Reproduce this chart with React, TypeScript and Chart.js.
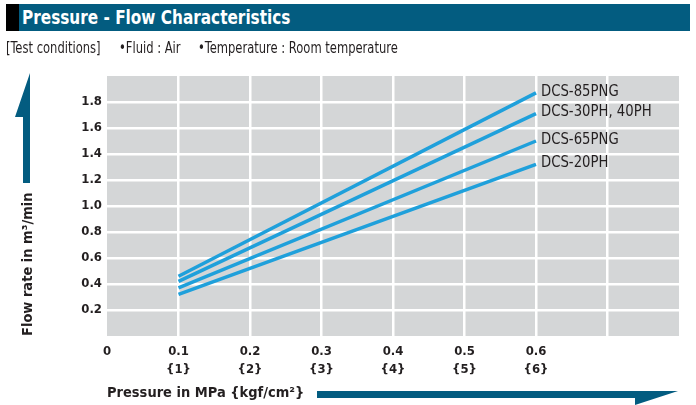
import React, { useEffect, useRef } from 'react';
import { Chart, registerables } from 'chart.js';

Chart.register(...registerables);

// ---- data ----
const seriesNames = ['DCS-85PNG', 'DCS-30PH, 40PH', 'DCS-65PNG', 'DCS-20PH'];
const pressureMPa = [0.1, 0.6];
const flow85PNG = [0.46, 1.87];
const flow30PH40PH = [0.42, 1.71];
const flow65PNG = [0.37, 1.5];
const flow20PH = [0.32, 1.32];
const xTickLabels = ['0', '0.1', '0.2', '0.3', '0.4', '0.5', '0.6', '', ''];
const kgfTickLabels = ['', '{1}', '{2}', '{3}', '{4}', '{5}', '{6}', '', ''];
const yTickLabels = ['', '0.2', '0.4', '0.6', '0.8', '1.0', '1.2', '1.4', '1.6', '1.8', ''];

const NARROW = "'Liberation Sans Narrow', 'Arial Narrow', 'DejaVu Sans Condensed', sans-serif";
const TEAL = '#035c80';
const INK = '#231f20';
const LINE = '#1fa0db';
const PLOT_BG = '#d4d6d7';

const seriesValues = [flow85PNG, flow30PH40PH, flow65PNG, flow20PH];

const bgPlugin = {
  id: 'plotBg',
  beforeDraw(chart: any) {
    const { ctx, chartArea } = chart;
    ctx.save();
    ctx.fillStyle = PLOT_BG;
    ctx.fillRect(chartArea.left, chartArea.top, chartArea.right - chartArea.left, chartArea.bottom - chartArea.top);
    ctx.restore();
  },
};

const labelPlugin = {
  id: 'seriesLabels',
  afterDatasetsDraw(chart: any) {
    const { ctx } = chart;
    chart.data.datasets.forEach((ds: any, i: number) => {
      const meta = chart.getDatasetMeta(i);
      const pt = meta.data[meta.data.length - 1];
      ctx.save();
      ctx.translate(pt.x + 5, pt.y - 1.5);
      ctx.scale(0.92, 1);
      ctx.font = `16px ${NARROW}`;
      ctx.fillStyle = INK;
      ctx.textAlign = 'left';
      ctx.textBaseline = 'middle';
      ctx.fillText(ds.label, 0, 0);
      ctx.restore();
    });
  },
};

const arrowPlugin = {
  id: 'arrows',
  afterDraw(chart: any) {
    const { ctx } = chart;
    ctx.save();
    ctx.fillStyle = TEAL;
    ctx.beginPath();
    ctx.moveTo(30, 73);
    ctx.lineTo(30, 183);
    ctx.lineTo(23, 183);
    ctx.lineTo(23, 117);
    ctx.lineTo(15, 117);
    ctx.closePath();
    ctx.fill();
    ctx.beginPath();
    ctx.moveTo(317, 391);
    ctx.lineTo(678, 391);
    ctx.lineTo(635, 405);
    ctx.lineTo(635, 398);
    ctx.lineTo(317, 398);
    ctx.closePath();
    ctx.fill();
    ctx.restore();
  },
};

const textStyle = (left: number, top: number, size: number, sx: number, extra: any = {}) => ({
  position: 'absolute' as const,
  left,
  top,
  fontFamily: NARROW,
  fontSize: size,
  whiteSpace: 'nowrap' as const,
  transform: `scaleX(${sx})`,
  transformOrigin: 'left center',
  ...extra,
});

export default function App() {
  const canvasRef = useRef<HTMLCanvasElement | null>(null);

  useEffect(() => {
    document.body.style.margin = '0';
    const canvas = canvasRef.current;
    if (!canvas) return;
    const chart = new Chart(canvas, {
      type: 'line',
      data: {
        datasets: seriesNames.map((name, i) => ({
          label: name,
          data: pressureMPa.map((x, j) => ({ x, y: seriesValues[i][j] })),
          borderColor: LINE,
          backgroundColor: LINE,
          borderWidth: 3.5,
          pointRadius: 0,
          fill: false,
          tension: 0,
        })),
      },
      options: {
        responsive: false,
        animation: false,
        devicePixelRatio: 1,
        layout: { padding: { left: 0, top: 76, right: 17, bottom: 0 } },
        plugins: { legend: { display: false }, tooltip: { enabled: false }, title: { display: false } },
        scales: {
          x: {
            type: 'linear',
            min: 0,
            max: 0.8,
            border: { display: false },
            grid: {
              drawTicks: false,
              tickLength: 0,
              lineWidth: 2.5,
              color: (c: any) => {
                const v = c.tick ? c.tick.value : 0;
                return v < 0.05 || v > 0.75 ? 'rgba(0,0,0,0)' : '#ffffff';
              },
            },
            ticks: {
              stepSize: 0.1,
              padding: 7,
              color: INK,
              maxRotation: 0,
              autoSkip: false,
              font: { family: NARROW, size: 13, weight: 'bold', lineHeight: 18 / 13 },
              callback: (value: any) => {
                const i = Math.round(Number(value) * 10);
                const a = xTickLabels[i] || '';
                const b = kgfTickLabels[i] || '';
                return b ? [a, b] : a;
              },
            },
            title: {
              display: true,
              text: 'Pressure in MPa {kgf/cm²}',
              align: 'start',
              color: INK,
              font: { family: NARROW, size: 14.5, weight: 'bold', lineHeight: 1.2 },
              padding: { top: 0, bottom: 3.3 },
            },
            afterFit: (scale: any) => {
              scale.height = 69;
            },
          },
          y: {
            type: 'linear',
            min: 0,
            max: 2,
            border: { display: false },
            grid: {
              drawTicks: false,
              tickLength: 0,
              lineWidth: 2.5,
              color: (c: any) => {
                const v = c.tick ? c.tick.value : 0;
                return v < 0.1 || v > 1.9 ? 'rgba(0,0,0,0)' : '#ffffff';
              },
            },
            ticks: {
              stepSize: 0.2,
              padding: 5,
              color: INK,
              autoSkip: false,
              font: { family: NARROW, size: 13, weight: 'bold' },
              callback: (value: any) => yTickLabels[Math.round(Number(value) * 5)] || '',
            },
            title: {
              display: true,
              text: 'Flow rate in m³/min',
              align: 'start',
              color: INK,
              font: { family: NARROW, size: 14.5, weight: 'bold', lineHeight: 1.2 },
              padding: { top: 19.5, bottom: 0 },
            },
            afterFit: (scale: any) => {
              scale.width = 107;
            },
          },
        },
      },
      plugins: [bgPlugin, labelPlugin, arrowPlugin],
    } as any);
    return () => chart.destroy();
  }, []);

  return (
    <div style={{ position: 'absolute', left: 0, top: 0, width: 696, height: 405, background: '#fff', overflow: 'hidden' }}>
      <canvas ref={canvasRef} width={696} height={405} style={{ position: 'absolute', left: 0, top: 0, width: 696, height: 405 }} />
      <div style={{ position: 'absolute', left: 6, top: 4, width: 13, height: 27, background: '#000' }} />
      <div style={{ position: 'absolute', left: 19, top: 4, width: 671, height: 27, background: TEAL }} />
      <div style={textStyle(22, 4, 20, 0.85, { height: 27, lineHeight: '27px', color: '#fff', fontWeight: 'bold' })}>
        Pressure - Flow Characteristics
      </div>
      <div style={textStyle(6, 39, 15, 0.855, { lineHeight: '18px', color: INK })}>
        [Test conditions]
      </div>
      <div style={textStyle(119, 39, 15, 0.855, { lineHeight: '18px', color: INK })}>
        •Fluid : Air
      </div>
      <div style={textStyle(198, 39, 15, 0.855, { lineHeight: '18px', color: INK })}>
        •Temperature : Room temperature
      </div>
    </div>
  );
}
